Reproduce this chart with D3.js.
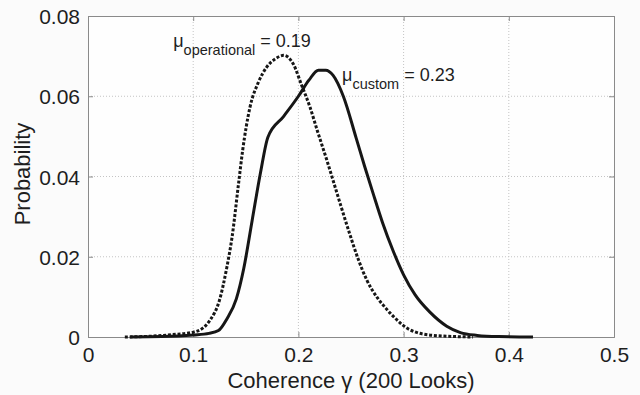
<!DOCTYPE html>
<html>
<head>
<meta charset="utf-8">
<script src="https://cdn.jsdelivr.net/npm/d3@7"></script>
<style>
  html, body { margin: 0; padding: 0; background: #fbfbfb; }
  svg { display: block; font-family: 'Liberation Sans', Arial, Helvetica, sans-serif; }
  .tick-label { font-size: 21px; fill: #1e1e1e; }
  .axis-label { font-size: 22px; fill: #1e1e1e; }
  .note { font-size: 18px; fill: #1e1e1e; }
</style>
</head>
<body>
<div id="app"></div>
<script>
// coherence values (x) and probabilities
const customGamma = [0.040, 0.070, 0.100, 0.115, 0.124, 0.132, 0.141, 0.148, 0.156, 0.164, 0.171, 0.186, 0.200, 0.210, 0.219, 0.226, 0.233, 0.2427, 0.255, 0.263, 0.271, 0.280, 0.290, 0.300, 0.311, 0.325, 0.341, 0.354, 0.370, 0.390, 0.423]
const customProb = [0, 0.0001, 0.0005, 0.0009, 0.0016, 0.0045, 0.0095, 0.0170, 0.0290, 0.0410, 0.0498, 0.0550, 0.0600, 0.0640, 0.0665, 0.0665, 0.0652, 0.0600, 0.0495, 0.0425, 0.0358, 0.0285, 0.0215, 0.0155, 0.0105, 0.0062, 0.0027, 0.0011, 0.0004, 0.0001, 0]

const operGamma = [0.035, 0.060, 0.080, 0.100, 0.109, 0.116, 0.125, 0.132, 0.137, 0.143, 0.147, 0.154, 0.162, 0.170, 0.178, 0.186, 0.195, 0.203, 0.211, 0.218, 0.227, 0.233, 0.240, 0.249, 0.257, 0.265, 0.275, 0.283, 0.290, 0.306, 0.328, 0.366]
const operProb = [0, 0.0002, 0.0006, 0.0012, 0.0022, 0.0042, 0.0092, 0.0174, 0.0250, 0.0380, 0.0465, 0.0573, 0.0635, 0.0673, 0.0693, 0.0702, 0.0681, 0.0628, 0.0573, 0.0514, 0.0441, 0.0390, 0.0330, 0.0255, 0.0193, 0.0142, 0.0098, 0.0072, 0.0052, 0.0018, 0.0004, 0]

const xTicks = [0, 0.1, 0.2, 0.3, 0.4, 0.5]
const yTicks = [0, 0.02, 0.04, 0.06, 0.08]

const margin = { top: 16, right: 26, bottom: 58, left: 88 }
const W = 640, H = 395
const width = W - margin.left - margin.right
const height = H - margin.top - margin.bottom

const svg = d3.select('#app')
  .append('svg')
  .attr('width', W)
  .attr('height', H)

const g = svg.append('g')
  .attr('transform', `translate(${margin.left},${margin.top})`)

const x = d3.scaleLinear().domain([0, 0.5]).range([0, width])
const y = d3.scaleLinear().domain([0, 0.08]).range([height, 0])

// plot background
g.append('rect')
  .attr('width', width)
  .attr('height', height)
  .attr('fill', '#fefefe')

// dotted grid
g.append('g')
  .selectAll('line')
  .data(xTicks.slice(1, -1))
  .join('line')
  .attr('x1', d => x(d)).attr('x2', d => x(d))
  .attr('y1', 0).attr('y2', height)
  .attr('stroke', '#c4c4c4')
  .attr('stroke-dasharray', '1,2')

g.append('g')
  .selectAll('line')
  .data(yTicks.slice(1, -1))
  .join('line')
  .attr('x1', 0).attr('x2', width)
  .attr('y1', d => y(d)).attr('y2', d => y(d))
  .attr('stroke', '#c4c4c4')
  .attr('stroke-dasharray', '1,2')

// axes with inward ticks
const fmt = d => d === 0 ? '0' : String(+d.toFixed(2))

const xAxis = g.append('g')
  .attr('transform', `translate(0,${height})`)
  .call(d3.axisBottom(x).tickValues(xTicks).tickSize(-5).tickPadding(10).tickFormat(fmt))
const xTop = g.append('g')
  .call(d3.axisTop(x).tickValues(xTicks).tickSize(-5).tickFormat(''))
const yAxis = g.append('g')
  .call(d3.axisLeft(y).tickValues(yTicks).tickSize(-5).tickPadding(8).tickFormat(fmt))
const yRight = g.append('g')
  .attr('transform', `translate(${width},0)`)
  .call(d3.axisRight(y).tickValues(yTicks).tickSize(-5).tickFormat(''))

for (const a of [xAxis, xTop, yAxis, yRight]) {
  a.select('.domain').attr('stroke', '#8a8a8a')
  a.selectAll('.tick line').attr('stroke', '#8a8a8a')
  a.selectAll('.tick text')
    .attr('class', 'tick-label')
    .attr('font-size', null)
    .attr('font-family', null)
}
xAxis.selectAll('.tick text').attr('dy', '0.72em')
yAxis.selectAll('.tick text').attr('dy', '0.36em')

// curves
const line = d3.line()
  .x(d => x(d[0]))
  .y(d => y(d[1]))
  .curve(d3.curveMonotoneX)

g.append('path')
  .datum(operGamma.map((v, i) => [v, operProb[i]]))
  .attr('d', line)
  .attr('fill', 'none')
  .attr('stroke', '#161616')
  .attr('stroke-width', 3)
  .attr('stroke-dasharray', '3,1.8')

g.append('path')
  .datum(customGamma.map((v, i) => [v, customProb[i]]))
  .attr('d', line)
  .attr('fill', 'none')
  .attr('stroke', '#161616')
  .attr('stroke-width', 3)

// annotations
function note(gx, gy, sub, val) {
  const t = g.append('text')
    .attr('class', 'note')
    .attr('x', x(gx))
    .attr('y', y(gy))
  t.append('tspan').text('\u03bc')
  t.append('tspan').attr('dy', 8).attr('font-size', 14.5).text(sub)
  t.append('tspan').attr('dy', -8).text(' = ' + val)
}
note(0.081, 0.0722, 'operational', '0.19')
note(0.2415, 0.0638, 'custom', '0.23')

// axis labels
svg.append('text')
  .attr('class', 'axis-label')
  .attr('x', margin.left + width / 2)
  .attr('y', 388)
  .attr('text-anchor', 'middle')
  .text('Coherence \u03b3 (200 Looks)')

svg.append('text')
  .attr('class', 'axis-label')
  .attr('transform', 'rotate(-90)')
  .attr('x', -174)
  .attr('y', 30)
  .attr('text-anchor', 'middle')
  .text('Probability')
</script>
</body>
</html>
